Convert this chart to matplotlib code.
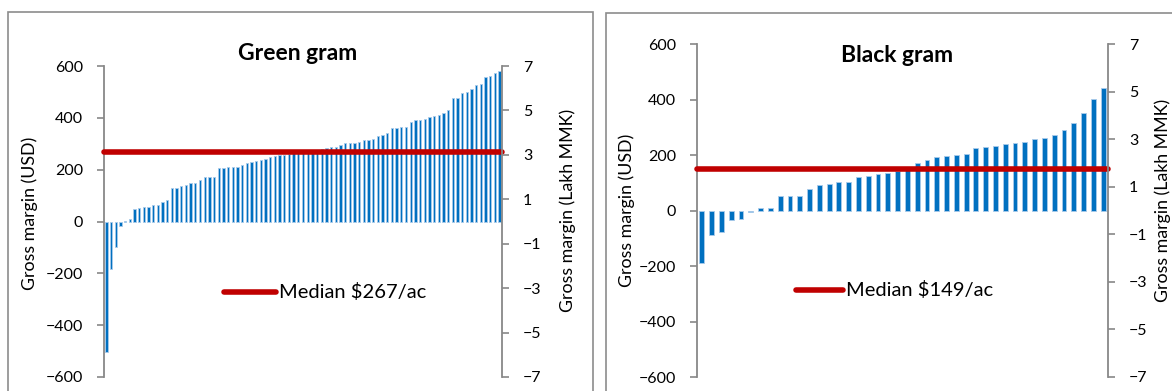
import numpy as np
import matplotlib
matplotlib.use("Agg")
import matplotlib.pyplot as plt
from matplotlib.patches import Rectangle
from matplotlib.lines import Line2D

# ---------------- data ----------------
green_titles = "Green gram"
black_titles = "Black gram"

green_gm_usd = [-503, -184, -99, -19, 3, 9, 50, 53, 55, 55,
                62, 64, 75, 84, 128, 131, 137, 141, 147, 150,
                162, 170, 173, 173, 205, 205, 212, 212, 212, 219,
                227, 231, 233, 236, 241, 249, 253, 255, 258, 261,
                263, 265, 267, 270, 273, 277, 280, 284, 286, 288,
                297, 303, 303, 303, 308, 315, 316, 317, 328, 333,
                342, 361, 361, 363, 365, 382, 392, 393, 397, 402,
                409, 411, 420, 431, 475, 477, 496, 500, 513, 525,
                531, 556, 560, 573, 579]

black_gm_usd = [-190, -87, -77, -35, -32, -7, 8, 9, 53, 53,
                53, 79, 91, 95, 101, 101, 119, 124, 131, 136,
                141, 157, 171, 183, 191, 196, 200, 203, 227, 230,
                232, 239, 242, 247, 257, 261, 273, 291, 317, 352,
                401, 440]

usd_ticks = [-600, -400, -200, 0, 200, 400, 600]
mmk_ticks = [-7, -5, -3, -1, 1, 3, 5, 7]

# ---------------- style ----------------
FONT = ["Lato", "DejaVu Sans"]
plt.rcParams["font.family"] = FONT
BAR = "#0070C0"
BAR_EDGE = "#A9CBEA"
RED = "#C00000"
GRAY = "#888888"
TXT = "#000000"

W, H = 1172, 391
fig = plt.figure(figsize=(W / 100, H / 100), dpi=100)


def fx(px):
    return px / W


def fy(py):
    return 1 - py / H


# panel borders
for x0, y0, x1, y1 in [(8, 12, 593, 400), (606, 13, 1180, 400)]:
    fig.patches.append(Rectangle((fx(x0), fy(y1)), fx(x1 - x0), (y1 - y0) / H,
                                 transform=fig.transFigure, fill=False,
                                 edgecolor="#8C8C8C", linewidth=1.2,
                                 clip_on=False))


def panel(vals, title, ax_px, bar_w, legend_px, title_px, lab_l_px, lab_r_px):
    x0, y0, x1, y1 = ax_px
    ax = fig.add_axes([fx(x0), fy(y1), fx(x1 - x0), (y1 - y0) / H])
    n = len(vals)
    x = np.arange(n)
    ax.bar(x, vals, width=bar_w, color=BAR, edgecolor=BAR_EDGE, linewidth=0.6)
    med = float(np.median(vals))
    ax.plot([-0.5, n - 0.5], [med, med], color=RED, linewidth=4.0,
            solid_capstyle="round", clip_on=False, zorder=3)
    ax.set_xlim(-0.5, n - 0.5)
    ax.set_ylim(-600, 600)
    ax.set_yticks(usd_ticks)
    ax.set_xticks([])
    for s in ["top", "bottom", "right"]:
        ax.spines[s].set_visible(False)
    ax.spines["left"].set_color(GRAY)
    ax.spines["left"].set_linewidth(1.3)
    ax.tick_params(axis="y", direction="out", length=5, width=1.2,
                   color=GRAY, labelsize=11.5, pad=10, labelcolor=TXT)

    ax2 = ax.twinx()
    ax2.set_ylim(-7, 7)
    ax2.set_yticks(mmk_ticks)
    for s in ["top", "bottom", "left"]:
        ax2.spines[s].set_visible(False)
    ax2.spines["right"].set_color(GRAY)
    ax2.spines["right"].set_linewidth(1.3)
    ax2.tick_params(axis="y", direction="out", length=5, width=1.2,
                    color=GRAY, labelsize=11.5, pad=10, labelcolor=TXT)

    fig.text(fx(title_px[0]), fy(title_px[1]), title, ha="center",
             va="center", fontsize=16.5, fontweight="bold", color=TXT)
    fig.text(fx(lab_l_px[0]), fy(lab_l_px[1]), "Gross margin (USD)",
             rotation=90, ha="center", va="center", fontsize=12.8, color=TXT)
    fig.text(fx(lab_r_px[0]), fy(lab_r_px[1]), "Gross margin (Lakh MMK)",
             rotation=90, ha="center", va="center", fontsize=12.8, color=TXT)

    lx0, lx1, ly = legend_px
    fig.add_artist(Line2D([fx(lx0), fx(lx1)], [fy(ly), fy(ly)],
                          transform=fig.transFigure, color=RED,
                          linewidth=4.0, solid_capstyle="round"))
    fig.text(fx(lx1 + 3), fy(ly), f"Median ${med:.0f}/ac", ha="left",
             va="center", fontsize=14.5, color=TXT)
    return ax


panel(green_gm_usd, green_titles, (104, 66, 502, 377), 0.5,
      (224, 276, 292), (298, 53), (30, 213), (568, 210))
panel(black_gm_usd, black_titles, (697, 44, 1108, 377), 0.5,
      (796, 843, 290), (897, 55), (627, 210), (1163, 200))

fig.savefig("out.png", dpi=100)
